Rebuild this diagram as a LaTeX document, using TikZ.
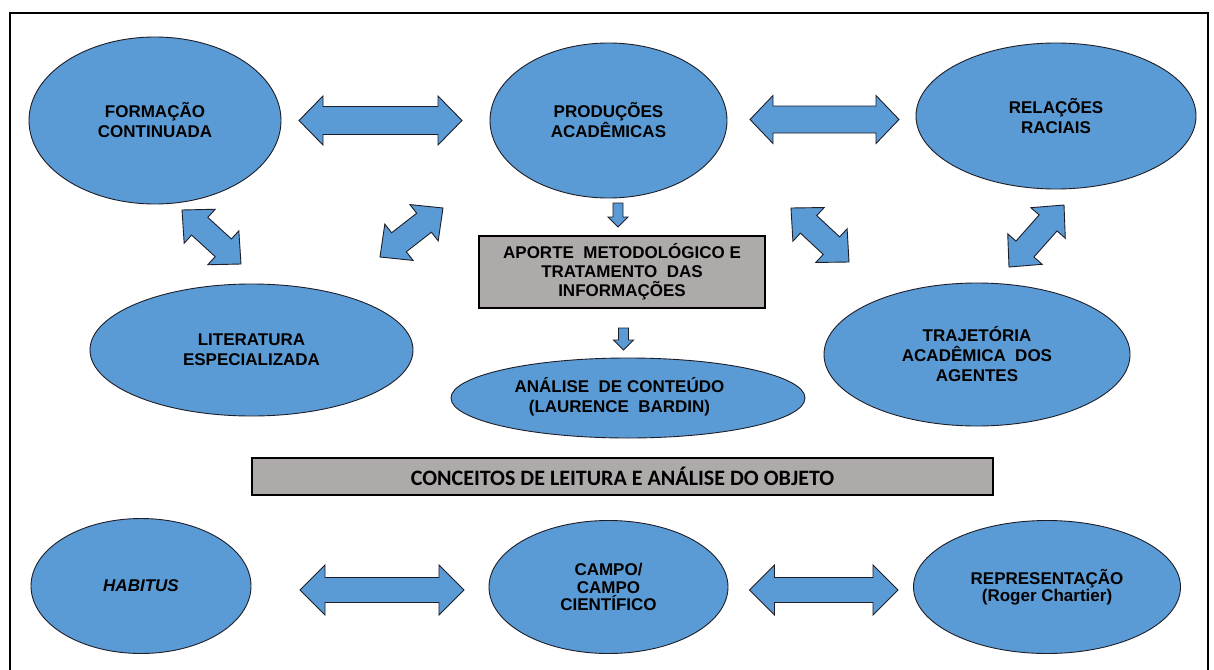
\documentclass[tikz,border=0pt]{standalone}
\usepackage{fontspec}
\setmainfont{Liberation Sans}
\newfontfamily\calib{Carlito}
\usetikzlibrary{shapes.geometric,calc}
\definecolor{ellblue}{RGB}{91,155,213}
\definecolor{boxgray}{RGB}{174,170,170}
\definecolor{edgec}{RGB}{30,30,40}
\newcommand{\dblarr}[5]{%
  \path ($(#1)!#5!(#2)$) coordinate (dbA) ($(#2)!#5!(#1)$) coordinate (dbB);
  \draw[barrow] (#1) -- ($(dbA)!#3!90:(#2)$) -- ($(dbA)!#4!90:(#2)$)
    -- ($(dbB)!#4!-90:(#1)$) -- ($(dbB)!#3!-90:(#1)$) -- (#2)
    -- ($(dbB)!#3!90:(#1)$) -- ($(dbB)!#4!90:(#1)$)
    -- ($(dbA)!#4!-90:(#2)$) -- ($(dbA)!#3!-90:(#2)$) -- cycle;}
\newcommand{\sglarr}[5]{%
  \path ($(#2)!#5!(#1)$) coordinate (sgB);
  \draw[barrow] ($(#1)!#4!90:(#2)$) -- ($(sgB)!#4!-90:(#1)$) -- ($(sgB)!#3!-90:(#1)$)
    -- (#2) -- ($(sgB)!#3!90:(#1)$) -- ($(sgB)!#4!90:(#1)$) -- ($(#1)!#4!-90:(#2)$) -- cycle;}
\begin{document}
\begin{tikzpicture}[x=1pt,y=-1pt,
  blob/.style={ellipse, draw=edgec, line width=0.9pt, fill=ellblue, inner sep=0pt, align=center, text=black,
    font={\bfseries\fontsize{17}{20}\selectfont}},
  blobb/.style={blob, font={\bfseries\fontsize{17}{17.5}\selectfont}},
  txt/.style={inner sep=0pt, align=center, font={\bfseries\fontsize{17}{20}\selectfont}},
  barrow/.style={draw=edgec, line width=0.9pt, fill=ellblue, line join=miter},
  gbox/.style={rectangle, draw=black, line width=1.3pt, fill=boxgray, inner sep=0pt, align=center}]
\useasboundingbox (0,0) rectangle (1214,669);
\fill[white] (0,0) rectangle (1214,669);
\draw[line width=1.6pt] (10,675) -- (10,13) -- (1208,13) -- (1208,675);

% top row
\node[blob, minimum width=252, minimum height=167] (form) at (155,120.5) {FORMAÇÃO\\CONTINUADA};
\node[blob, minimum width=237, minimum height=155] (prod) at (608.5,120.5) {PRODUÇÕES\\ACADÊMICAS};
\node[blob, minimum width=280, minimum height=146] (rel) at (1056,116) {RELAÇÕES\\RACIAIS};

% middle row
\node[blob, minimum width=323, minimum height=132] (lit) at (251.5,350) {LITERATURA\\ESPECIALIZADA};
\node[blob, minimum width=354, minimum height=80] (ana) at (628,398) {};
\node[txt] (anat) at (619.5,397) {ANÁLISE\ \ DE CONTEÚDO\\(LAURENCE\ \ BARDIN)};
\node[blob, minimum width=306, minimum height=143] (traj) at (977,354.5) {TRAJETÓRIA\\ACADÊMICA\ \ DOS\\AGENTES};

% boxes
\node[gbox, minimum width=286, minimum height=72, font={\bfseries\fontsize{17}{19}\selectfont}] (aporte) at (622,272)
  {APORTE\ \ METODOLÓGICO E\\TRATAMENTO\ \ DAS\\INFORMAÇÕES};
\node[gbox, minimum width=741, minimum height=37, font={\calib\bfseries\fontsize{22}{26}\selectfont}] (conc) at (622.5,476.5)
  {CONCEITOS DE LEITURA E ANÁLISE DO OBJETO};

% bottom row
\node[blobb, minimum width=220, minimum height=135] (hab) at (141,586) {\textit{HABITUS}};
\node[blobb, minimum width=239, minimum height=133] (campo) at (608.5,587) {CAMPO/\\CAMPO\\CIENTÍFICO};
\node[blobb, minimum width=267, minimum height=133] (rep) at (1047,587) {REPRESENTAÇÃO\\(Roger Chartier)};

% arrow end points
\coordinate (h1a) at (299,120.5);  \coordinate (h1b) at (462,120.5);
\coordinate (h2a) at (750,119.5);  \coordinate (h2b) at (899,119.5);
\coordinate (d1a) at (182,210);    \coordinate (d1b) at (241,264);
\coordinate (d2a) at (380,257);    \coordinate (d2b) at (443,208);
\coordinate (d3a) at (791,208);    \coordinate (d3b) at (849,262);
\coordinate (d4a) at (1009,267);   \coordinate (d4b) at (1064,205);
\coordinate (b1a) at (300,590);    \coordinate (b1b) at (464,590);
\coordinate (b2a) at (749.5,590);  \coordinate (b2b) at (898,590);
\coordinate (s1a) at (618,203);    \coordinate (s1b) at (618,227);
\coordinate (s2a) at (623.5,328);  \coordinate (s2b) at (623.5,350);

\dblarr{h1a}{h1b}{24.5pt}{14pt}{24pt}
\dblarr{h2a}{h2b}{24pt}{13.5pt}{23pt}
\dblarr{d1a}{d1b}{23pt}{12pt}{24pt}
\dblarr{d2a}{d2b}{23pt}{12pt}{24pt}
\dblarr{d3a}{d3b}{23pt}{12pt}{24pt}
\dblarr{d4a}{d4b}{23pt}{12pt}{24pt}
\dblarr{b1a}{b1b}{25pt}{12.5pt}{25pt}
\dblarr{b2a}{b2b}{25pt}{12.5pt}{25pt}
\sglarr{s1a}{s1b}{10pt}{5pt}{10pt}
\sglarr{s2a}{s2b}{10pt}{5pt}{10pt}
\end{tikzpicture}
\end{document}
